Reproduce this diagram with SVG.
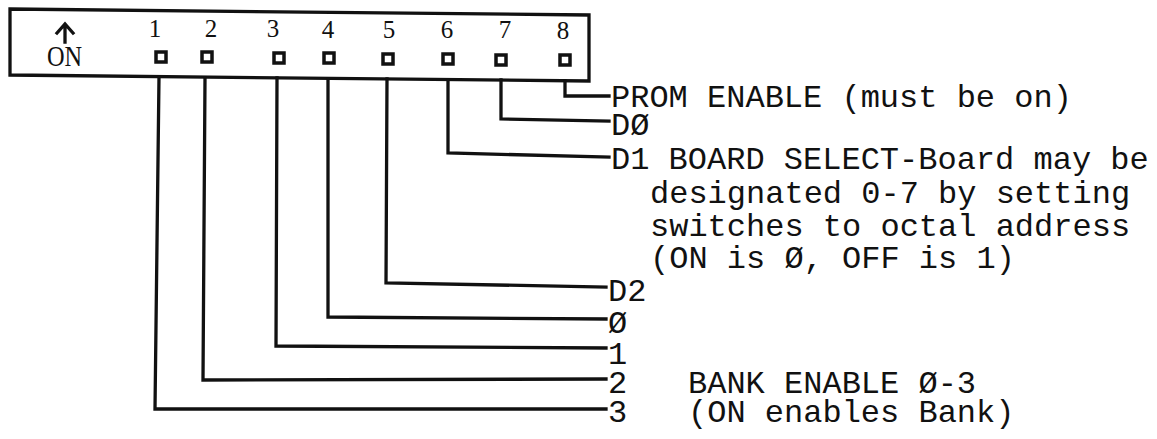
<svg xmlns="http://www.w3.org/2000/svg" width="1157" height="439" viewBox="0 0 1157 439">
<style>
.ln{fill:none;stroke:#111;stroke-width:3.3;stroke-linejoin:miter;stroke-linecap:square}
.sw{fill:none;stroke:#111;stroke-width:3.5}
.num{font-family:"Liberation Serif","Times New Roman",serif;font-size:25px;fill:#111;text-anchor:middle}
.on{font-family:"Liberation Serif","Times New Roman",serif;font-size:29px;fill:#111}
.lbl{font-family:"Liberation Mono","Courier New",monospace;font-size:32px;fill:#111}
</style>
<rect width="1157" height="439" fill="#fff"/>
<g id="switch-block">
<polygon class="ln" points="10,9 589,15 589,81 10,75"/>
<path class="ln" d="M65,42 L65,26 M57,33 L65,24 L73,33"/>
<text class="on" transform="translate(47,66) scale(0.84,1)" x="0" y="0">ON</text>
<text class="num" x="155" y="37">1</text>
<text class="num" x="211" y="37">2</text>
<text class="num" x="273" y="37">3</text>
<text class="num" x="328" y="38">4</text>
<text class="num" x="389" y="38">5</text>
<text class="num" x="447" y="38">6</text>
<text class="num" x="505" y="38">7</text>
<text class="num" x="563" y="39">8</text>
<rect class="sw" x="156" y="52" width="10" height="10"/>
<rect class="sw" x="202" y="52" width="10" height="10"/>
<rect class="sw" x="274" y="53" width="10" height="10"/>
<rect class="sw" x="324" y="53" width="10" height="10"/>
<rect class="sw" x="383" y="54" width="10" height="10"/>
<rect class="sw" x="443" y="54" width="10" height="10"/>
<rect class="sw" x="496" y="55" width="10" height="10"/>
<rect class="sw" x="560" y="55" width="10" height="10"/>
</g>
<g id="connectors">
<polyline class="ln" points="565,81 565,96 609,96"/>
<polyline class="ln" points="501,80 501,119 609,121"/>
<polyline class="ln" points="448,80 448,153 609,157"/>
<polyline class="ln" points="387,79 386,283 606,287"/>
<polyline class="ln" points="328,79 328,317 606,319"/>
<polyline class="ln" points="277,78 276,346 606,348"/>
<polyline class="ln" points="205,78 203,380 606,379"/>
<polyline class="ln" points="159,77 155,409 606,409"/>
</g>
<g id="label-prom"><text class="lbl" x="611" y="107">PROM ENABLE (must be on)</text></g>
<g id="label-d0"><text class="lbl" x="611" y="135">DØ</text></g>
<g id="label-d1">
<text class="lbl" x="611" y="169">D1 BOARD SELECT-Board may be</text>
<text class="lbl" x="650" y="203">designated 0-7 by setting</text>
<text class="lbl" x="650" y="236">switches to octal address</text>
<text class="lbl" x="650" y="268">(ON is Ø, OFF is 1)</text>
</g>
<g id="label-d2"><text class="lbl" x="608" y="301">D2</text></g>
<g id="label-b0"><text class="lbl" x="608" y="333">Ø</text></g>
<g id="label-b1"><text class="lbl" x="608" y="364">1</text></g>
<g id="label-b2"><text class="lbl" x="608" y="393">2</text></g>
<g id="label-b3"><text class="lbl" x="608" y="422">3</text></g>
<g id="label-bank">
<text class="lbl" x="688" y="393">BANK ENABLE Ø-3</text>
<text class="lbl" x="688" y="422">(ON enables Bank)</text>
</g>
</svg>
